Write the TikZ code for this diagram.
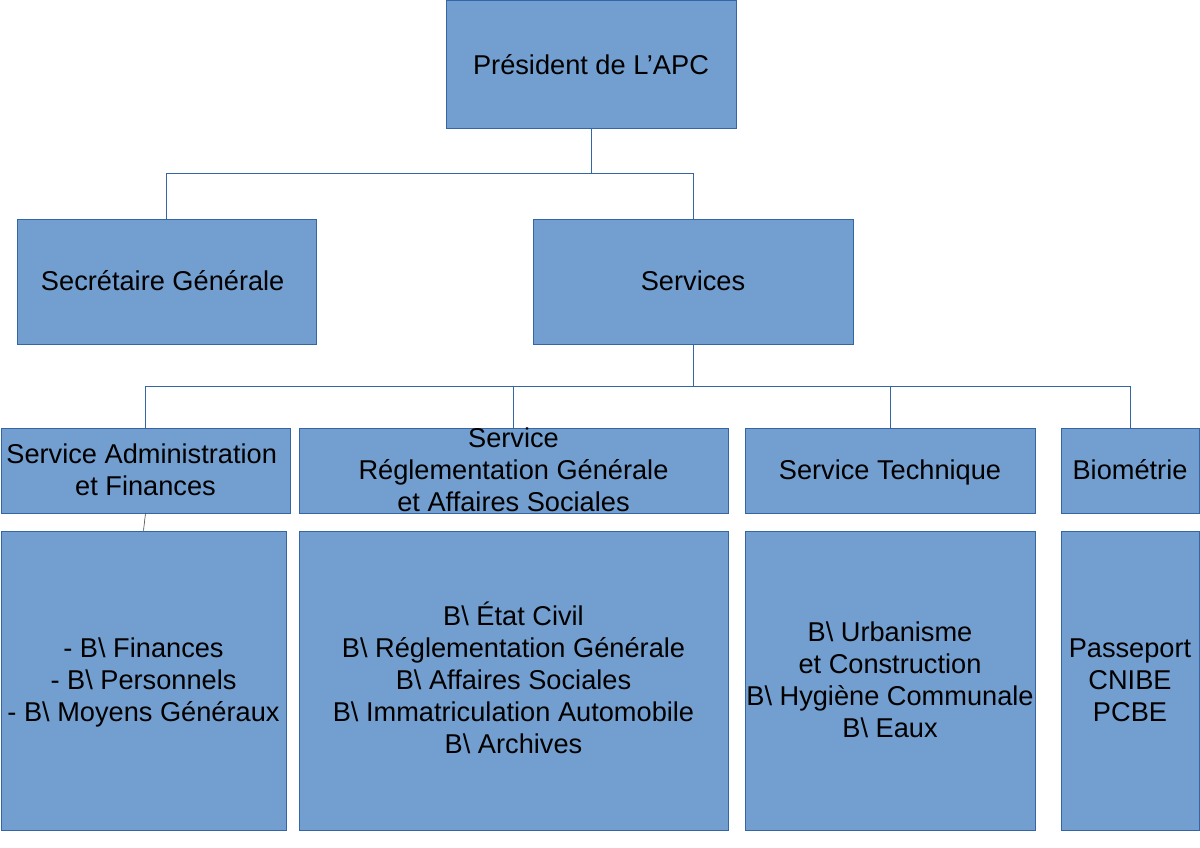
\documentclass[tikz,border=0pt]{standalone}
\usepackage{fontspec}
\setmainfont{Liberation Sans}
\newcommand{\Bsl}{\textbackslash}
\newcommand{\Ls}{\rule[-5.8pt]{0pt}{30.4pt}}
\newcommand{\Tsp}{\rule{7.6pt}{0pt}}
\definecolor{boxfill}{HTML}{729FCF}
\definecolor{boxline}{HTML}{3465A4}
\begin{document}
\begin{tikzpicture}[x=1pt,y=-1pt,
  box/.style={draw=boxline, fill=boxfill, line width=1pt, inner sep=0pt, rectangle},
  txt/.style={align=center, inner sep=0pt, text=black, font=\fontsize{27.2pt}{32pt}\selectfont},
  conn/.style={draw=boxline, line width=1pt},
  thinconn/.style={draw=black!75, line width=0.6pt}]
\useasboundingbox (0,0) rectangle (1200,848);

% level 1
\node[box, minimum width=290pt, minimum height=128pt] (pres) at (591,65) {};
\node[txt] (prest) at (pres.center) {\Ls Président de L’APC};

% level 2
\node[box, minimum width=299pt, minimum height=125pt] (sec) at (166.5,281.5) {};
\node[txt] (sect) at (sec.center) {\Ls Secrétaire Générale\Tsp};
\node[box, minimum width=320pt, minimum height=125pt] (serv) at (693,281.5) {};
\node[txt] (servt) at (serv.center) {\Ls Services};

% level 3
\node[box, minimum width=289pt, minimum height=85pt] (saf) at (145.5,470.5) {};
\node[txt] (saft) at (saf.center) {\Ls Service Administration\Tsp\\\Ls et Finances};
\node[box, minimum width=429pt, minimum height=85pt] (srg) at (513.5,470.5) {};
\node[txt] (srgt) at (srg.center) {\Ls Service\\\Ls Réglementation Générale\\\Ls et Affaires Sociales};
\node[box, minimum width=290pt, minimum height=85pt] (st) at (890,470.5) {};
\node[txt] (stt) at (st.center) {\Ls Service Technique};
\node[box, minimum width=138pt, minimum height=85pt] (bio) at (1130,470.5) {};
\node[txt] (biot) at (bio.center) {\Ls Biométrie};

% level 4
\node[box, minimum width=285pt, minimum height=299pt] (safb) at (143.5,680.5) {};
\node[txt] (safbt) at (safb.center) {\Ls - B\Bsl{} Finances\\\Ls - B\Bsl{} Personnels\\\Ls - B\Bsl{} Moyens Généraux};
\node[box, minimum width=429pt, minimum height=299pt] (srgb) at (513.5,680.5) {};
\node[txt] (srgbt) at (srgb.center) {\Ls B\Bsl{} État Civil\\\Ls B\Bsl{} Réglementation Générale\\\Ls B\Bsl{} Affaires Sociales\\\Ls B\Bsl{} Immatriculation Automobile\\\Ls B\Bsl{} Archives};
\node[box, minimum width=290pt, minimum height=299pt] (stb) at (890,680.5) {};
\node[txt] (stbt) at (stb.center) {\Ls B\Bsl{} Urbanisme\\\Ls et Construction\\\Ls B\Bsl{} Hygiène Communale\\\Ls B\Bsl{} Eaux};
\node[box, minimum width=138pt, minimum height=299pt] (biob) at (1130,680.5) {};
\node[txt] (biobt) at (biob.center) {\Ls Passeport\\\Ls CNIBE\\\Ls PCBE};

% connectors
\coordinate (j1) at (pres.south |- 0,174);
\coordinate (j2) at (serv.south |- 0,386);
\draw[conn] (pres.south) -- (j1);
\draw[conn] (j1) -| (sec.north);
\draw[conn] (j1) -| (serv.north);
\draw[conn] (serv.south) -- (j2);
\draw[conn] (j2) -| (saf.north);
\draw[conn] (j2) -| (srg.north);
\draw[conn] (j2) -| (st.north);
\draw[conn] (j2) -| (bio.north);
\draw[thinconn] (saf.south) -- (safb.north);
\end{tikzpicture}
\end{document}
